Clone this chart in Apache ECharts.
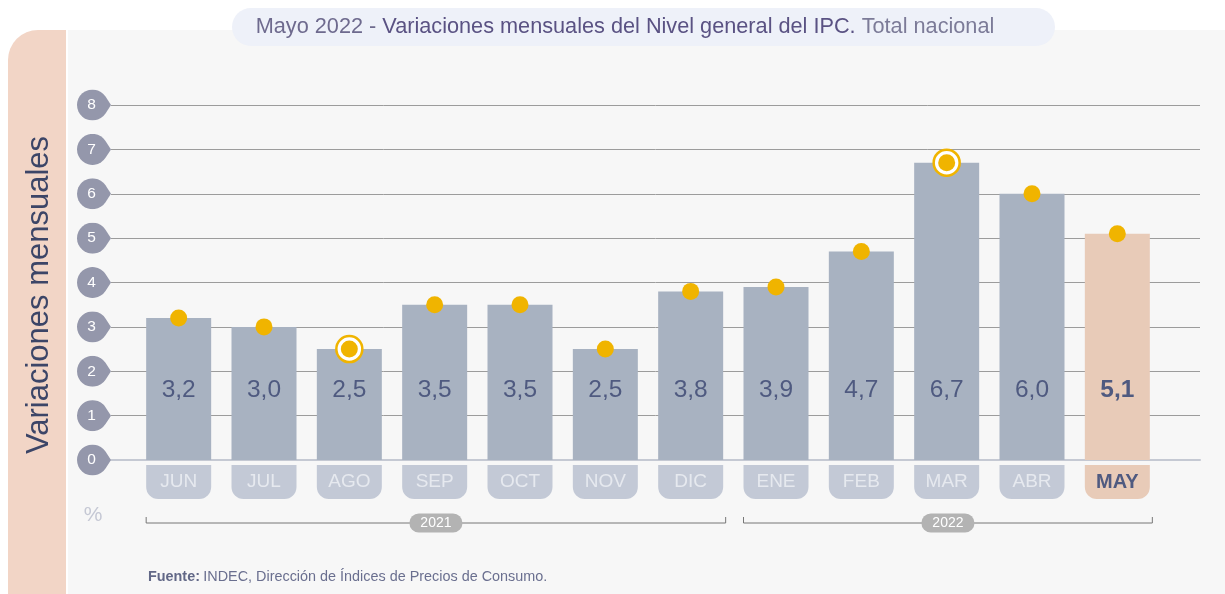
<!DOCTYPE html>
<html>
<head>
<meta charset="utf-8">
<script src="https://cdn.jsdelivr.net/npm/echarts@6/dist/echarts.min.js"></script>
<style>
  html, body { margin: 0; padding: 0; background: #fff; }
  #chart { width: 1225px; height: 594px; }
</style>
</head>
<body>
<div id="chart"></div>
<script>
// datos
const meses = ['JUN', 'JUL', 'AGO', 'SEP', 'OCT', 'NOV', 'DIC', 'ENE', 'FEB', 'MAR', 'ABR', 'MAY']
const variacion = [3.2, 3.0, 2.5, 3.5, 3.5, 2.5, 3.8, 3.9, 4.7, 6.7, 6.0, 5.1]
const destacados = ['-', '-', 2.5, '-', '-', '-', '-', '-', '-', 6.7, '-', '-']
const anios = ['2021', '2022']
const anioDesde = [0, 7]
const anioHasta = [6, 11]
const yTicks = [0, 1, 2, 3, 4, 5, 6, 7, 8]

const FONT = '"Liberation Sans", Arial, sans-serif'
const AMARILLO = '#f0b400'

// forma de gota para las etiquetas del eje y
const gota = 'data:image/svg+xml;utf8,' + encodeURIComponent(
  '<svg xmlns="http://www.w3.org/2000/svg" width="34" height="31" viewBox="0 0 34 31">' +
  '<path d="M28.5 7.04 A15.5 15.5 0 1 0 28.5 23.96 L34 15.5 Z" fill="#9497ab"/></svg>')

const fmt = v => v.toFixed(1).replace('.', ',')

const chart = echarts.init(document.getElementById('chart'))

chart.setOption({
  backgroundColor: '#ffffff',
  animation: false,
  graphic: [
    { type: 'rect', z: -10, shape: { x: 68, y: 30, width: 1200, height: 600 }, style: { fill: '#f7f7f7' } },
    { type: 'rect', z: -10, shape: { x: 8, y: 30, width: 58, height: 600, r: [30, 0, 0, 30] }, style: { fill: '#f2d5c6' } },
    { type: 'rect', z: -5, shape: { x: 232, y: 8, width: 823, height: 38, r: 19 }, style: { fill: '#eef1f9' } },
    {
      type: 'text', z: 10, x: 625, y: 27,
      style: {
        text: '{a|Mayo 2022 - }{b|Variaciones mensuales del Nivel general del IPC.}{c| Total nacional}',
        align: 'center', verticalAlign: 'middle',
        rich: {
          a: { fontFamily: FONT, fontSize: 21.7, fill: '#6e6a8e' },
          b: { fontFamily: FONT, fontSize: 21.7, fill: '#5a5283' },
          c: { fontFamily: FONT, fontSize: 21.7, fill: '#7c7b98' }
        }
      }
    },
    {
      type: 'text', x: 39, y: 295, rotation: Math.PI / 2,
      style: { text: 'Variaciones mensuales', align: 'center', verticalAlign: 'middle', fontFamily: FONT, fontSize: 31, fill: '#3c4567' }
    },
    {
      type: 'text', x: 93, y: 515,
      style: { text: '%', align: 'center', verticalAlign: 'middle', fontFamily: FONT, fontSize: 21, fill: '#c5c8d4' }
    },
    {
      type: 'text', x: 148, y: 577,
      style: {
        text: '{b|Fuente:} {n|INDEC, Dirección de Índices de Precios de Consumo.}',
        verticalAlign: 'middle',
        rich: {
          b: { fontFamily: FONT, fontSize: 14.4, fontWeight: 'bold', fill: '#626887' },
          n: { fontFamily: FONT, fontSize: 14.4, fill: '#6a6f8f' }
        }
      }
    }
  ],
  grid: [
    { left: 111, right: 25, top: 105, bottom: 134 },
    { left: 136, right: 65, top: 105, bottom: 134 }
  ],
  xAxis: [
    {
      gridIndex: 0, type: 'value', min: 0, max: 1,
      axisLine: { show: true, lineStyle: { color: '#c5c9d3', width: 2 } },
      axisTick: { show: false }, axisLabel: { show: false }, splitLine: { show: false }
    },
    {
      gridIndex: 1, type: 'category', data: meses,
      axisLine: { show: false }, axisTick: { show: false },
      axisLabel: {
        interval: 0, margin: 5,
        formatter: (v, i) => i === meses.length - 1 ? '{m|' + v + '}' : '{t|' + v + '}',
        rich: {
          t: {
            width: 65, height: 34, lineHeight: 34, align: 'center',
            backgroundColor: '#c3c9d6', borderRadius: [0, 0, 12, 12],
            color: '#e6e9ef', fontSize: 19, fontFamily: FONT
          },
          m: {
            width: 65, height: 34, lineHeight: 34, align: 'center',
            backgroundColor: '#e8cbb8', borderRadius: [0, 0, 12, 12],
            color: '#4f5a80', fontSize: 20, fontWeight: 'bold', fontFamily: FONT
          }
        }
      }
    }
  ],
  yAxis: [
    {
      gridIndex: 0, type: 'value', min: 0, max: 8, interval: 1,
      axisLine: { show: false }, axisTick: { show: false },
      splitLine: { lineStyle: { color: '#9c9c9c', width: 1 } },
      axisLabel: {
        margin: 0,
        formatter: v => yTicks.indexOf(v) >= 0 ? '{g|' + v + '}' : '',
        rich: {
          g: {
            width: 29, height: 31, lineHeight: 31, padding: [0, 5, 0, 0], align: 'center',
            backgroundColor: { image: gota },
            color: '#ffffff', fontSize: 15.5, fontFamily: FONT
          }
        }
      }
    },
    {
      gridIndex: 1, type: 'value', min: 0, max: 8, interval: 1, show: false
    }
  ],
  series: [
    {
      type: 'bar', xAxisIndex: 1, yAxisIndex: 1, barWidth: 65,
      data: variacion.map((v, i) => ({
        value: v,
        itemStyle: { color: i === variacion.length - 1 ? '#e8cbb8' : '#a8b2c1' },
        label: i === variacion.length - 1 ? { fontWeight: 'bold' } : {}
      })),
      label: {
        show: true, position: 'insideBottom', distance: 57,
        formatter: p => fmt(p.value),
        color: '#4f5a80', fontSize: 24.5, fontFamily: FONT
      }
    },
    {
      type: 'scatter', xAxisIndex: 1, yAxisIndex: 1, symbolSize: 26, z: 3,
      itemStyle: { color: '#ffffff', borderColor: AMARILLO, borderWidth: 2.5, opacity: 1 },
      data: destacados
    },
    {
      type: 'scatter', xAxisIndex: 1, yAxisIndex: 1, symbolSize: 17, z: 4,
      itemStyle: { color: AMARILLO, opacity: 1 },
      data: variacion
    },
    {
      type: 'custom', xAxisIndex: 1, yAxisIndex: 1, z: 5,
      data: anioDesde.map((d, i) => [d, anioHasta[i]]),
      renderItem: (params, api) => {
        const a = api.coord([api.value(0), 0])
        const b = api.coord([api.value(1), 0])
        const x0 = a[0] - 32.5
        const x1 = b[0] + 35
        const y = a[1] + 63
        return {
          type: 'group',
          children: [
            {
              type: 'polyline',
              shape: { points: [[x0, y - 6], [x0, y], [x1, y], [x1, y - 6]] },
              style: { stroke: '#777', lineWidth: 1, fill: null }
            },
            {
              type: 'text', x: (x0 + x1) / 2, y: y,
              style: {
                text: anios[params.dataIndex], align: 'center', verticalAlign: 'middle',
                fontFamily: FONT, fontSize: 14, fill: '#ffffff',
                backgroundColor: '#b3b3b3', padding: [3, 11, 2, 11], borderRadius: 10
              }
            }
          ]
        }
      }
    }
  ]
})
</script>
</body>
</html>
